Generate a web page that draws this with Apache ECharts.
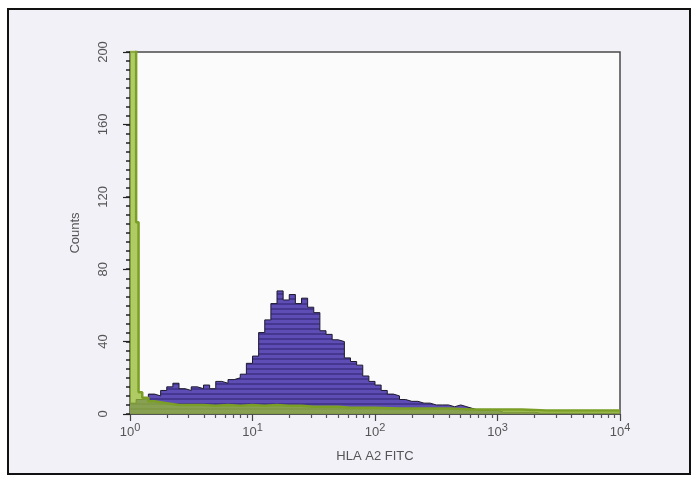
<!DOCTYPE html>
<html>
<head>
<meta charset="utf-8">
<script src="https://cdn.jsdelivr.net/npm/echarts@6/dist/echarts.min.js"></script>
<style>
html,body{margin:0;padding:0;background:#ffffff;}
#chart{width:696px;height:481px;}
</style>
</head>
<body>
<div id="chart"></div>
<script>
// x positions are log10 of fluorescence (0 = 10^0 ... 4 = 10^4), bin left edges
const purpleX = [0.00,0.05,0.10,0.15,0.20,0.25,0.30,0.35,0.40,0.45,0.50,0.55,0.60,0.65,0.70,0.75,0.80,0.85,0.90,0.95,
  1.00,1.05,1.10,1.15,1.20,1.25,1.30,1.35,1.40,1.45,1.50,1.55,1.60,1.65,1.70,1.75,1.80,1.85,1.90,1.95,
  2.00,2.05,2.10,2.15,2.20,2.25,2.30,2.35,2.40,2.45,2.50,2.55,2.60,2.65,2.70,2.75,2.80,2.85,2.90,2.95,
  3.00,3.05,3.10,3.15,3.20,3.25,3.30,3.35,3.40,3.45,3.50,3.55,3.60,3.65,3.70,3.75,3.80,3.85,3.90,3.95,4.00];
const purpleCounts = [6,8,9,11,10,13,15,17,14,13,15,14,16,14,18,17,19,20,22,28,
  32,45,52,61,68,63,66,61,64,59,56,46,44,41,40,31,29,27,21,18,
  16,13,11,10,8,7,7,6,6,5,5,5,4,5,4,3,2,2,2,2,
  1,1,1,1,1,1,0.5,0.5,0.5,0.5,0.5,0.5,0.5,0.5,0.5,0.5,0.5,0.5,0.5,0.5,0.5];

const greenX = [0.00,0.05,0.07,0.10,0.15,0.20,0.30,0.40,0.50,0.60,0.70,0.80,0.90,1.00,1.10,1.20,1.30,1.40,1.50,1.60,
  1.70,1.80,1.90,2.00,2.20,2.40,2.60,2.80,3.00,3.20,3.40,3.60,3.80,4.00];
const greenCounts = [210,106,12,9,7,6,5,5,5,4.5,5,4.5,5,4.5,5,4.5,4.5,4,4,4,
  3.5,3.5,3.5,3,3,3,2.5,2.5,2.5,2,2,2,2,2];

const xTickLabels = ['0','1','2','3','4'];

const font = '"Liberation Sans", Arial, sans-serif';
const txt = '#555555';

function pairs(xs, ys){ return xs.map((x,i)=>[x, ys[i]]); }

// striped purple fill
const pc = document.createElement('canvas');
pc.width = 4; pc.height = 5;
const g = pc.getContext('2d');
g.fillStyle = '#5f4db6'; g.fillRect(0,0,4,5);
g.fillStyle = '#45368f'; g.fillRect(0,3,4,2);

// minor (log) tick positions on x axis
const minorX = [];
for (let d = 0; d < 4; d++) for (let m = 2; m <= 9; m++) minorX.push(d + Math.log10(m));
// all tick positions on y axis (every 5 counts)
const allY = [];
for (let v = 0; v <= 200; v += 5) allY.push(v);

const chart = echarts.init(document.getElementById('chart'), null, {renderer:'canvas'});
chart.setOption({
  animation:false,
  backgroundColor:'#ffffff',
  graphic:[{type:'rect', z:-100, shape:{x:8, y:9, width:682, height:465},
    style:{fill:'#f2f1f7', stroke:'#111111', lineWidth:2}}],
  grid:{left:130, right:76, top:52, bottom:67, show:true, backgroundColor:'#fbfbfc',
    borderColor:'#4a4a4a', borderWidth:1.5},
  xAxis:[{
    type:'value', min:0, max:4, interval:1, position:'bottom',
    axisLine:{show:true, onZero:false, lineStyle:{color:'#555', width:1}},
    axisTick:{show:true, length:7, lineStyle:{color:'#444', width:1.2}},
    splitLine:{show:false},
    axisLabel:{margin:8, formatter:(v)=>'{b|10}{s|'+xTickLabels[Math.round(v)]+'}',
      rich:{b:{fontSize:13, color:txt, fontFamily:font},
            s:{fontSize:11, color:txt, fontFamily:font, padding:[0,0,9,0]}}},
    name:'HLA A2 FITC', nameLocation:'middle', nameGap:36,
    nameTextStyle:{fontSize:13, color:txt, fontFamily:font}
  },{
    type:'value', min:0, max:4, interval:1, position:'bottom', offset:0,
    axisLine:{show:false, onZero:false}, axisLabel:{show:false}, splitLine:{show:false},
    axisTick:{show:true, length:4, customValues:minorX, lineStyle:{color:'#555', width:1.2}}
  }],
  yAxis:[{
    type:'value', min:0, max:200, interval:40, position:'left',
    axisLine:{show:true, onZero:false, lineStyle:{color:'#444'}},
    axisTick:{show:true, length:4, customValues:allY, lineStyle:{color:'#222', width:1.5}},
    splitLine:{show:false},
    axisLabel:{rotate:90, margin:20, fontSize:13, color:txt, fontFamily:font,
      formatter:(v)=>String(v)},
    name:'Counts', nameLocation:'middle', nameGap:48,
    nameTextStyle:{fontSize:13, color:txt, fontFamily:font}
  },{
    type:'value', min:0, max:200, interval:40, position:'left', offset:0,
    axisLine:{show:false, onZero:false}, axisLabel:{show:false}, splitLine:{show:false},
    axisTick:{show:true, length:7, lineStyle:{color:'#222', width:1.2}}
  }],
  series:[{
    type:'line', step:'end', symbol:'none', xAxisIndex:0, yAxisIndex:0,
    data:pairs(purpleX, purpleCounts),
    lineStyle:{color:'#1e1a2e', width:1},
    areaStyle:{color:{image:pc, repeat:'repeat'}, opacity:1},
    z:2
  },{
    type:'line', step:'end', symbol:'none', xAxisIndex:0, yAxisIndex:0,
    data:pairs(greenX, greenCounts),
    lineStyle:{color:'#7a9e26', width:2.5},
    areaStyle:{color:'#94bc30', opacity:0.75},
    z:3
  }]
});
</script>
</body>
</html>
